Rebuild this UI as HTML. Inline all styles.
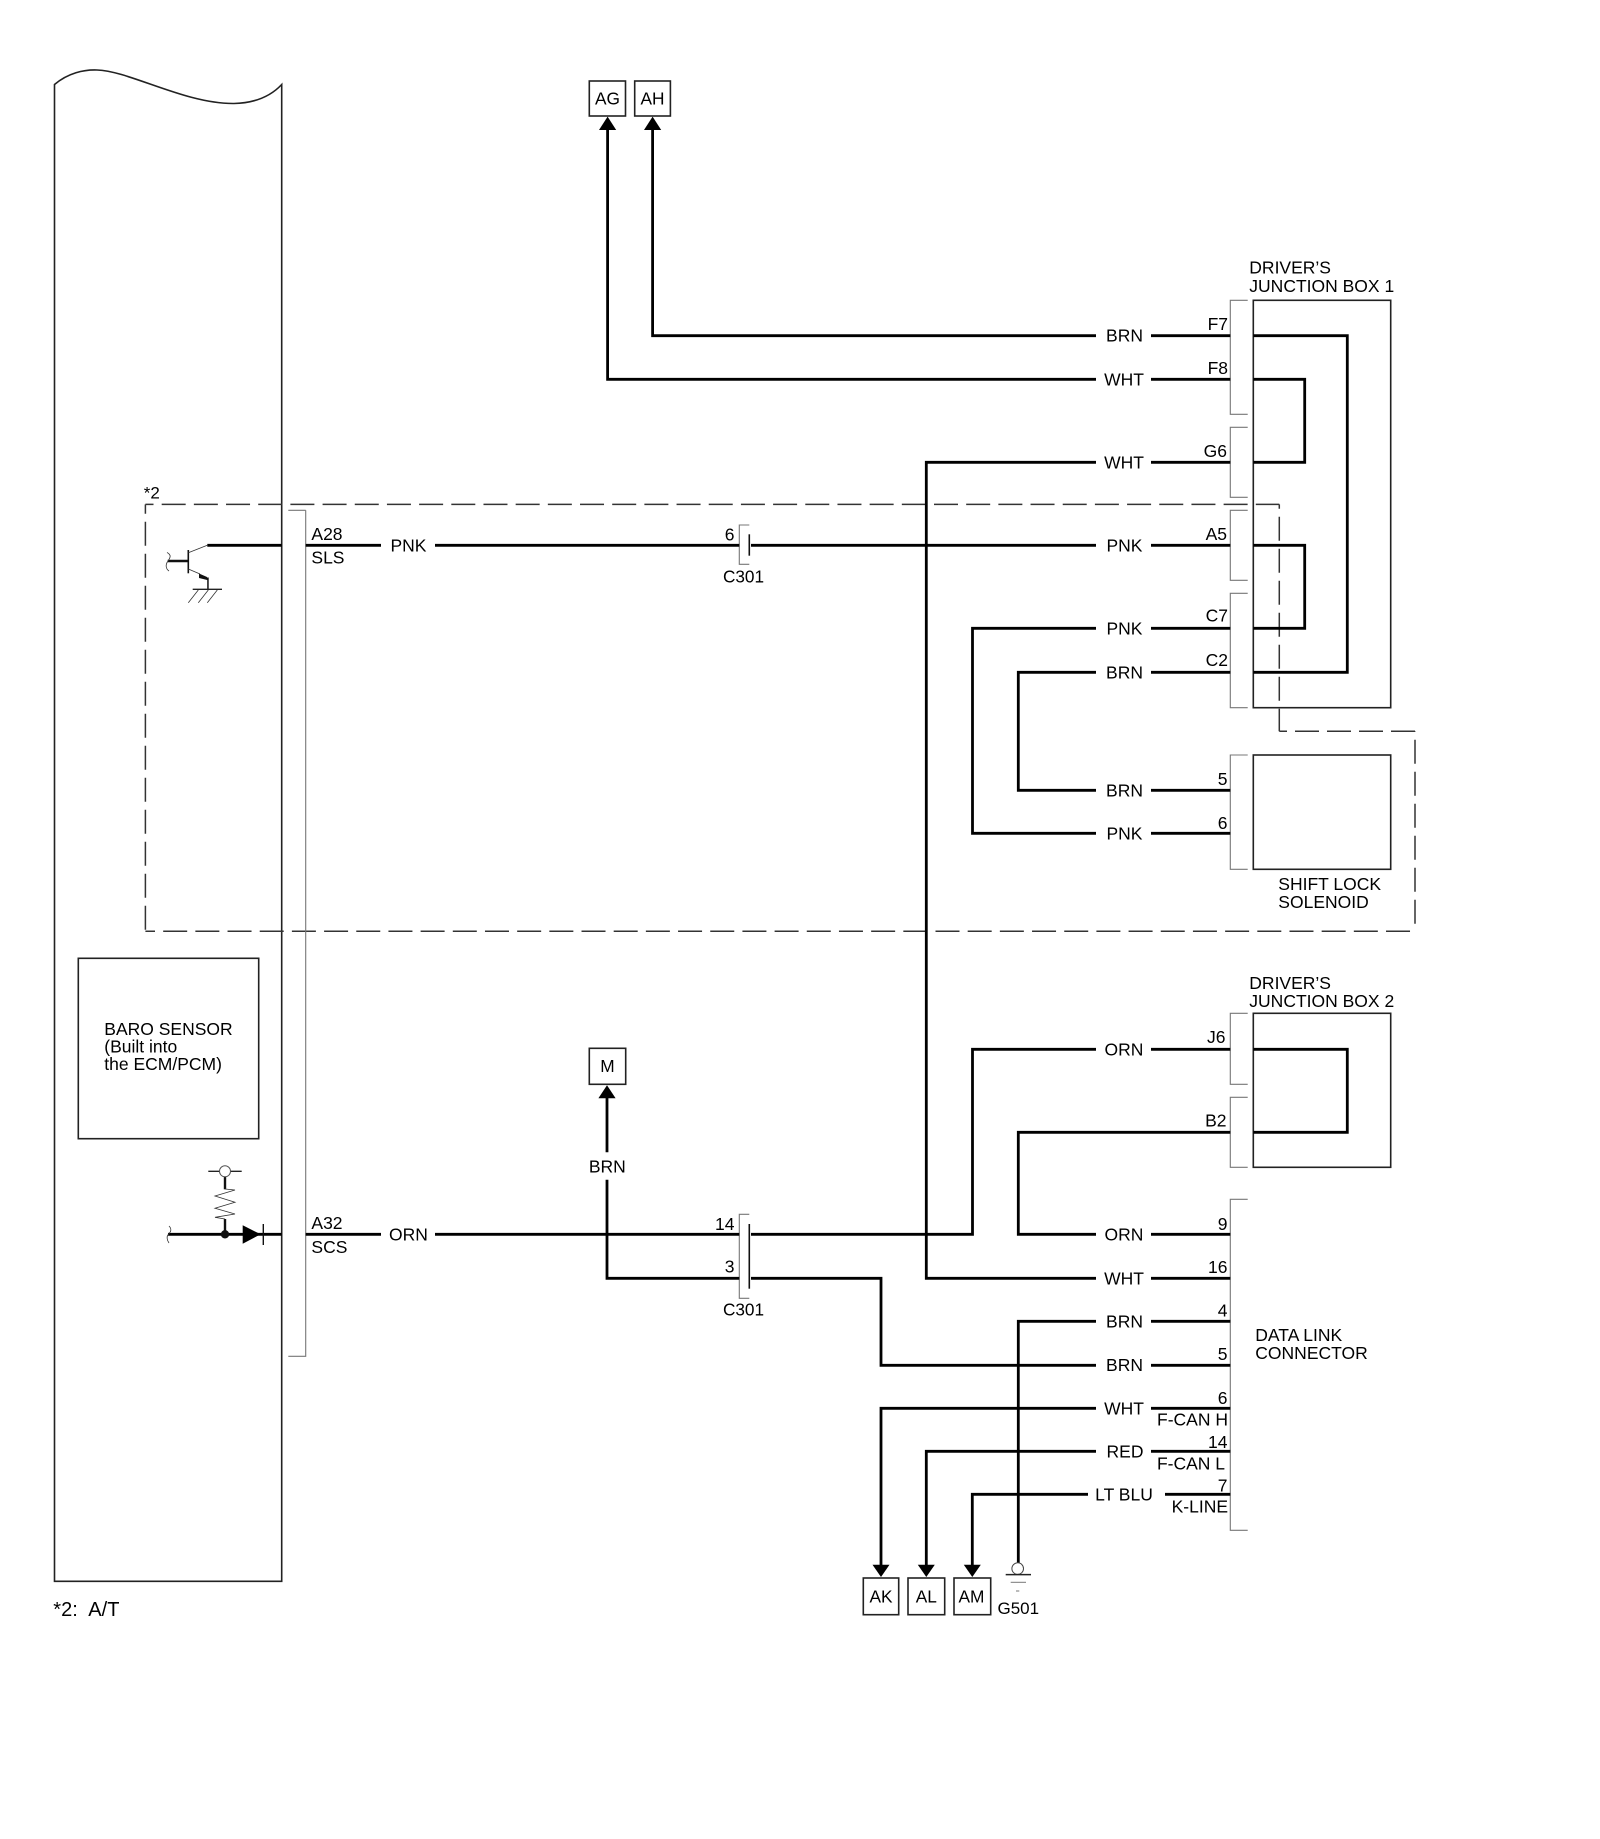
<!DOCTYPE html>
<html><head><meta charset="utf-8"><style>
html,body{margin:0;padding:0;background:#fff}
svg{display:block}
text{font-family:"Liberation Sans",Arial,sans-serif;font-size:17.5px;fill:#000}
.w{fill:none;stroke:#000;stroke-width:2.8;stroke-linejoin:miter}
.b{fill:none;stroke:#222;stroke-width:1.6}
.g{fill:none;stroke:#777;stroke-width:1.1}
.t{fill:none;stroke:#333;stroke-width:.8}
.d{stroke:#333;stroke-width:1.5;stroke-dasharray:24 8.18;fill:none}
</style></head><body>
<svg width="1600" height="1839" viewBox="0 0 1600 1839" xmlns="http://www.w3.org/2000/svg">
<rect width="1600" height="1839" fill="#fff"/>

<!-- ECM body -->
<path class="b" d="M54.5 1581.3V84.5C68 73 84 69.5 97 70C130 71 185 104 234 103.5C254 103 270 97 281.7 84.5V1581.3Z"/>

<!-- dashed zone -->
<line class="d" x1="145.4" y1="504.4" x2="1279.3" y2="504.4" stroke-dashoffset="15.9"/>
<line class="d" x1="1279.3" y1="504.4" x2="1279.3" y2="731.3" stroke-dashoffset="19.7" style="stroke-dasharray:24 8"/>
<line class="d" x1="1279.3" y1="731.3" x2="1415" y2="731.3" stroke-dashoffset="16.3" style="stroke-dasharray:24 8"/>
<line class="d" x1="1415" y1="731.3" x2="1415" y2="931.3" stroke-dashoffset="23.6" style="stroke-dasharray:24 8"/>
<line class="d" x1="145.4" y1="931.3" x2="1415" y2="931.3" stroke-dashoffset="14.4"/>
<line class="d" x1="145.4" y1="504.4" x2="145.4" y2="931.3" stroke-dashoffset="14.7" style="stroke-dasharray:24 8"/>
<text x="143.8" y="498.3" style="font-size:17px">*2</text>

<!-- boxes -->
<rect class="b" x="1253.3" y="300.3" width="137.4" height="407.4"/>
<rect class="b" x="1253.3" y="755" width="137.4" height="114.3"/>
<rect class="b" x="1253.3" y="1013.3" width="137.4" height="154"/>
<rect class="b" x="78.3" y="958.3" width="180.4" height="180.4"/>

<!-- brackets -->
<path class="g" d="M305.7 510.3H288.3M305.7 510.3V1356.3H288.3"/>
<path class="g" d="M1247.7 300.3H1230.3V414.3H1247.7"/>
<path class="g" d="M1247.7 427.3H1230.3V497.3H1247.7"/>
<path class="g" d="M1247.7 510.3H1230.3V580.3H1247.7"/>
<path class="g" d="M1247.7 593.3H1230.3V707.7H1247.7"/>
<path class="g" d="M1247.7 755H1230.3V869.3H1247.7"/>
<path class="g" d="M1247.7 1013.3H1230.3V1084.3H1247.7"/>
<path class="g" d="M1247.7 1097.3H1230.3V1167.3H1247.7"/>
<path class="g" d="M1247.7 1199.3H1230.3V1530.3H1247.7"/>
<path class="g" d="M749.3 525H739.3V564.3H749.3"/>
<path class="g" d="M749.3 1214.3H739.3V1298.3H749.3"/>
<line x1="749.3" y1="534.3" x2="749.3" y2="555.7" stroke="#111" stroke-width="1.6"/>
<line x1="749.3" y1="1224" x2="749.3" y2="1288.7" stroke="#111" stroke-width="1.6"/>

<!-- wires -->
<path class="w" d="M652.6 128V335.7H1096M1151 335.7H1230.3"/>
<path class="w" d="M607.6 128V379.3H1096M1151 379.3H1230.3"/>
<path class="w" d="M1151 462.3H1230.3M1096 462.3H926.3V1278.3H1096M1151 1278.3H1230.3"/>
<path class="w" d="M207.3 545.3H281.7M305.7 545.3H381M435 545.3H739.3M751 545.3H1096M1151 545.3H1230.3"/>
<path class="w" d="M1151 628.3H1230.3M1096 628.3H972.5V833.3H1096M1151 833.3H1230.3"/>
<path class="w" d="M1151 672.3H1230.3M1096 672.3H1018.3V790.3H1096M1151 790.3H1230.3"/>
<path class="w" d="M1253.3 335.7H1347.3V672.3H1253.3"/>
<path class="w" d="M1253.3 379.3H1304.7V462.3H1253.3"/>
<path class="w" d="M1253.3 545.3H1304.7V628.3H1253.3"/>
<path class="w" d="M1253.3 1049.3H1347.3V1132.3H1253.3"/>
<path class="w" d="M168 1234.3H281.7M305.7 1234.3H381M435 1234.3H739.3M751 1234.3H972.5V1049.3H1096M1151 1049.3H1230.3"/>
<path class="w" d="M1230.3 1132.3H1018.3V1234.3H1096M1151 1234.3H1230.3"/>
<path class="w" d="M607 1096V1152.3M607 1179.7V1278.3H739.3M751 1278.3H881V1365.3H1096M1151 1365.3H1230.3"/>
<path class="w" d="M1018.3 1563V1321.3H1096M1151 1321.3H1230.3"/>
<path class="w" d="M881 1566V1408.3H1096M1151 1408.3H1230.3"/>
<path class="w" d="M926.3 1566V1451.3H1096M1151 1451.3H1230.3"/>
<path class="w" d="M972.3 1566V1494.3H1088M1165 1494.3H1230.3"/>

<!-- arrowheads -->
<path d="M607.6 116.6L599 130H616.2Z" fill="#000"/>
<path d="M652.6 116.6L644 130H661.2Z" fill="#000"/>
<path d="M607 1085.3L598.4 1098.3H615.6Z" fill="#000"/>
<path d="M881 1577L872.5 1564.7H889.5Z" fill="#000"/>
<path d="M926.3 1577L917.8 1564.7H934.8Z" fill="#000"/>
<path d="M972.3 1577L963.8 1564.7H980.8Z" fill="#000"/>

<!-- terminal boxes -->
<rect class="b" x="589.3" y="81" width="36.2" height="35"/>
<rect class="b" x="634.7" y="81" width="35.7" height="35"/>
<rect class="b" x="589.3" y="1048.3" width="36.4" height="36"/>
<rect class="b" x="863.3" y="1578" width="35.4" height="36.7"/>
<rect class="b" x="908" y="1578" width="36.7" height="36.7"/>
<rect class="b" x="954" y="1578" width="36.7" height="36.7"/>
<text x="607.5" y="104.5" style="font-size:17.3px" text-anchor="middle">AG</text>
<text x="652.5" y="104.5" style="font-size:17.3px" text-anchor="middle">AH</text>
<text x="607.5" y="1072" style="font-size:17.3px" text-anchor="middle">M</text>
<text x="881" y="1602.3" style="font-size:17.3px" text-anchor="middle">AK</text>
<text x="926.3" y="1602.3" style="font-size:17.3px" text-anchor="middle">AL</text>
<text x="971.5" y="1602.3" style="font-size:17.3px" text-anchor="middle">AM</text>

<!-- ground G501 -->
<circle cx="1017.7" cy="1568.6" r="5.8" fill="#fff" stroke="#444" stroke-width="1"/>
<line x1="1005.7" y1="1574.6" x2="1031" y2="1574.6" stroke="#222" stroke-width="1.5"/>
<line x1="1010.7" y1="1582.3" x2="1026" y2="1582.3" stroke="#777" stroke-width="1"/>
<line x1="1016" y1="1591" x2="1019.3" y2="1591" stroke="#777" stroke-width="1"/>
<text x="1018.3" y="1614" text-anchor="middle" style="font-size:17px">G501</text>

<!-- transistor -->
<line x1="188.3" y1="550" x2="188.3" y2="573.3" stroke="#111" stroke-width="1.6"/>
<line x1="167.7" y1="561" x2="188.3" y2="561" stroke="#111" stroke-width="2.6"/>
<path class="t" d="M188.3 552.7L207.3 545.3M188.3 569L200 574"/>
<path d="M199 573.5L207 577V577.5H208.7V590H207.2V580L199 578Z" fill="#111"/>
<line x1="192.7" y1="589.3" x2="222" y2="589.3" stroke="#222" stroke-width="1.3"/>
<path class="t" d="M198.3 590L188.3 602.7M208.3 590L198.3 602.7M217.3 590L207.3 602.7"/>
<path class="t" d="M167 552.5C172 555 170 558 168 561C165 565 166 569 169 571"/>

<!-- diode + resistor -->
<circle cx="225" cy="1234.3" r="4.2" fill="#111"/>
<path d="M242.7 1225.3V1243.7L260.7 1234.3Z" fill="#000"/>
<line x1="263.3" y1="1224" x2="263.3" y2="1245" stroke="#111" stroke-width="1.4"/>
<line x1="225" y1="1234" x2="225" y2="1219" stroke="#111" stroke-width="2.4"/>
<line x1="225" y1="1176.7" x2="225" y2="1189.3" stroke="#111" stroke-width="2.4"/>
<path class="t" d="M225 1189L235 1190L215 1196L235 1202.3L215 1208.3L235 1214L215 1217.3L225 1219"/>
<line x1="208.3" y1="1171.3" x2="241.7" y2="1171.3" stroke="#222" stroke-width="1.4"/>
<circle cx="225" cy="1171.3" r="5.5" fill="#fff" stroke="#555" stroke-width="1"/>
<path class="t" d="M169 1226C172 1229 171 1232 168.5 1234C166 1237 167 1240 169 1243"/>

<!-- component labels -->
<text x="1249.3" y="273.7">DRIVER’S</text>
<text x="1249.3" y="292">JUNCTION BOX 1</text>
<text x="1249.3" y="989">DRIVER’S</text>
<text x="1249.3" y="1007">JUNCTION BOX 2</text>
<text x="1278.3" y="890">SHIFT LOCK</text>
<text x="1278.3" y="908">SOLENOID</text>
<text x="1255.3" y="1341">DATA LINK</text>
<text x="1255.3" y="1359">CONNECTOR</text>
<text x="104.3" y="1035">BARO SENSOR</text>
<text x="104.3" y="1052.7">(Built into</text>
<text x="104.3" y="1070">the ECM/PCM)</text>
<text x="53.3" y="1616" style="font-size:20px">*2:</text>
<text x="88.3" y="1616" style="font-size:20px">A/T</text>

<!-- ECM pin labels -->
<text x="311.4" y="540">A28</text>
<text x="311.4" y="563.7">SLS</text>
<text x="311.4" y="1229">A32</text>
<text x="311.4" y="1252.8">SCS</text>

<!-- wire colours -->
<g text-anchor="middle">
<text x="408.5" y="551.3">PNK</text>
<text x="408.5" y="1240.5">ORN</text>
<text x="1124.5" y="341.7">BRN</text>
<text x="1124" y="385.3">WHT</text>
<text x="1124" y="468.3">WHT</text>
<text x="1124.5" y="551.3">PNK</text>
<text x="1124.5" y="634.3">PNK</text>
<text x="1124.5" y="678.3">BRN</text>
<text x="1124.5" y="796.3">BRN</text>
<text x="1124.5" y="839.3">PNK</text>
<text x="1124" y="1055.3">ORN</text>
<text x="1124" y="1240.5">ORN</text>
<text x="1124" y="1284.3">WHT</text>
<text x="1124.5" y="1327.3">BRN</text>
<text x="1124.5" y="1371">BRN</text>
<text x="1124" y="1414.3">WHT</text>
<text x="1125" y="1457.3">RED</text>
<text x="1124" y="1500.3">LT BLU</text>
<text x="607.3" y="1172.6">BRN</text>
</g>

<!-- pin labels -->
<g text-anchor="end">
<text x="1228" y="330">F7</text>
<text x="1228" y="374">F8</text>
<text x="1227" y="457">G6</text>
<text x="1227" y="540">A5</text>
<text x="1228" y="621.5">C7</text>
<text x="1228" y="666">C2</text>
<text x="1227.5" y="785">5</text>
<text x="1227.5" y="829">6</text>
<text x="1225.5" y="1043">J6</text>
<text x="1226.5" y="1126.7">B2</text>
<text x="1227.5" y="1230">9</text>
<text x="1227.5" y="1273">16</text>
<text x="1227.5" y="1316.7">4</text>
<text x="1227.5" y="1360">5</text>
<text x="1227.5" y="1404">6</text>
<text x="1227.5" y="1448">14</text>
<text x="1227.5" y="1491.7">7</text>
<text x="1228" y="1425.7">F-CAN H</text>
<text x="1225" y="1469.7">F-CAN L</text>
<text x="1228" y="1512.3">K-LINE</text>
<text x="734.5" y="540.7">6</text>
<text x="734.5" y="1230">14</text>
<text x="734.5" y="1272.7">3</text>
</g>
<text x="743.5" y="582.7" text-anchor="middle" style="font-size:17.2px">C301</text>
<text x="743.5" y="1315.3" text-anchor="middle" style="font-size:17.2px">C301</text>
</svg>
</body></html>
